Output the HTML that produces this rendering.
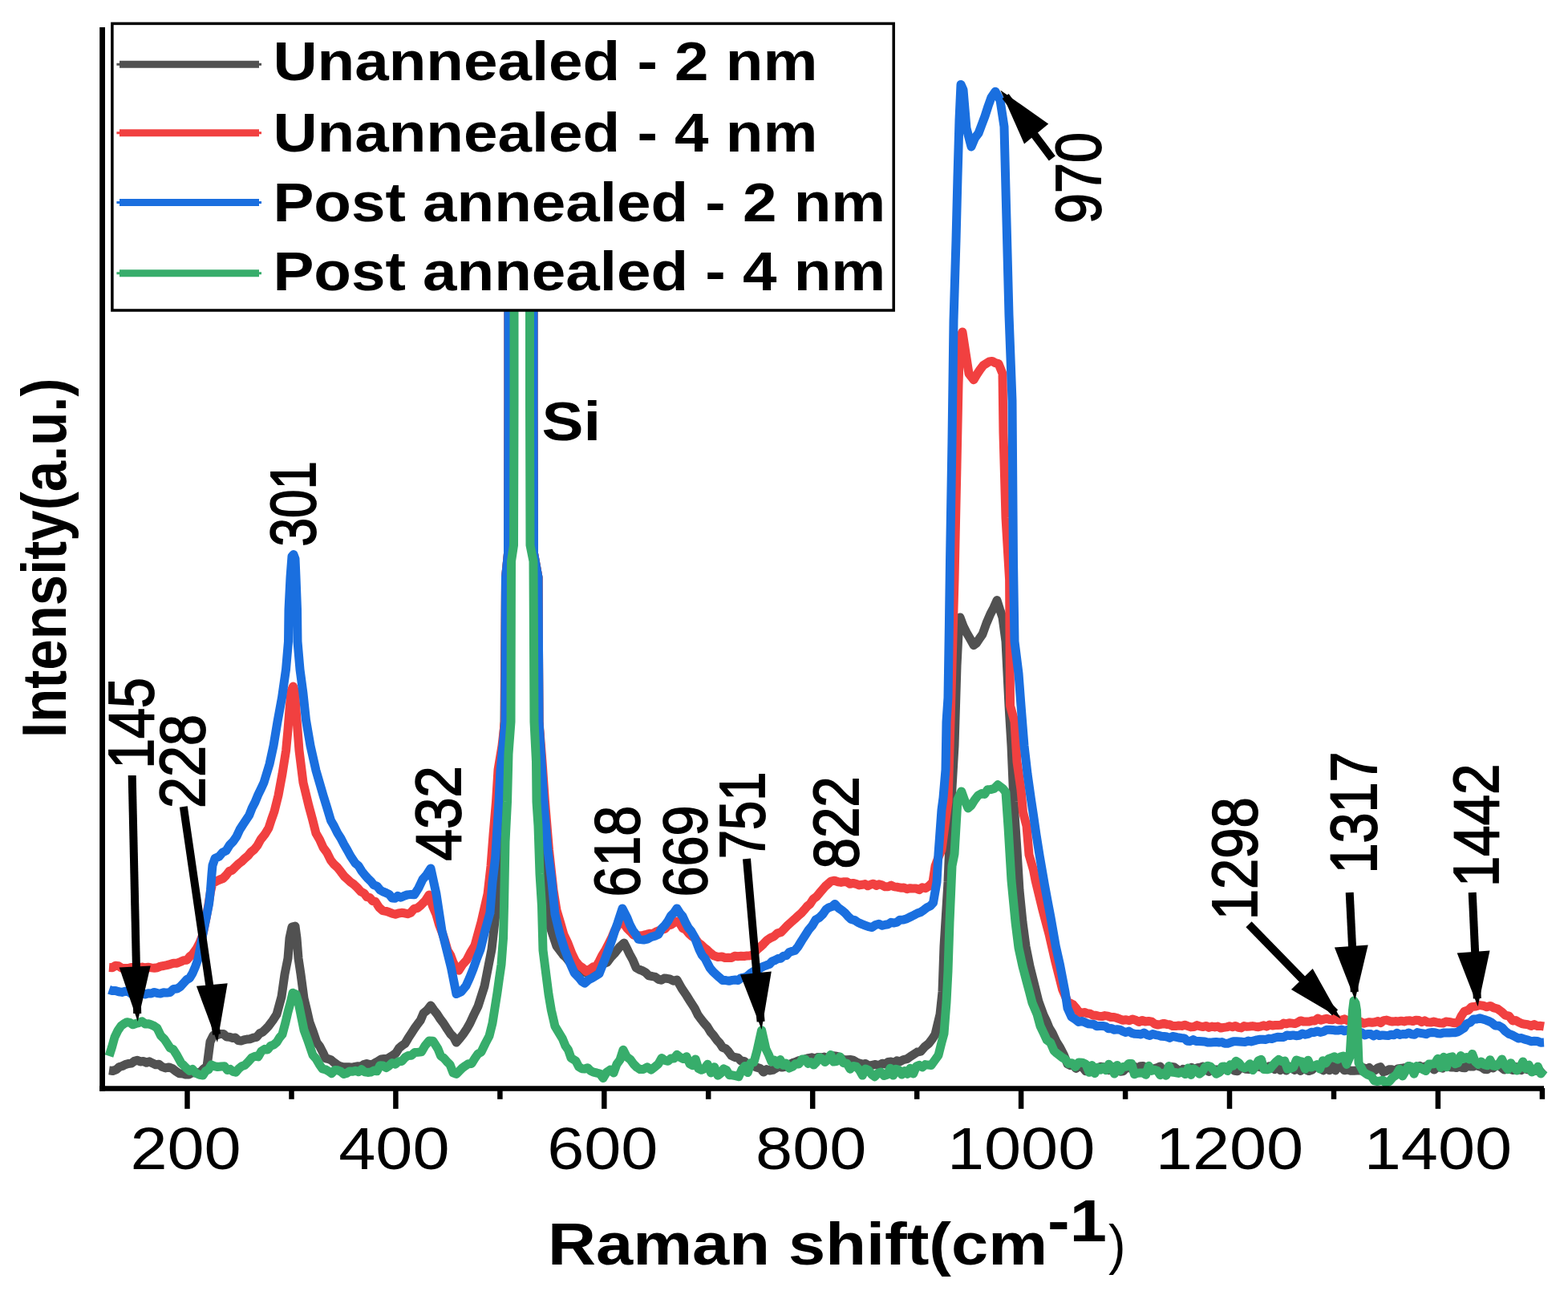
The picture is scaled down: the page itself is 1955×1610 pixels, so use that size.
<!DOCTYPE html><html><head><meta charset="utf-8"><title>Raman spectra</title><style>html,body{margin:0;padding:0;background:#fff;overflow:hidden}svg{display:block}</style></head><body><svg width="1955" height="1610" viewBox="0 0 1955 1610"><rect x="0" y="0" width="1955" height="1610" fill="#fff"/><path d="M136.0 1334.9 L140.5 1335.5 L145.0 1333.8 L148.8 1330.5 L152.5 1329.5 L156.2 1327.6 L160.0 1326.5 L163.8 1326.1 L167.5 1323.3 L171.2 1322.3 L175.0 1324.0 L178.8 1323.5 L182.5 1325.3 L186.2 1323.8 L190.0 1325.8 L194.0 1327.7 L198.0 1327.2 L202.0 1330.3 L206.3 1331.9 L210.7 1330.9 L215.0 1332.6 L219.2 1335.9 L223.5 1338.8 L227.8 1338.9 L232.0 1340.1 L235.6 1340.0 L239.2 1338.0 L242.8 1337.8 L246.4 1337.6 L250.0 1337.0 L254.0 1332.7 L258.0 1330.0 L262.0 1299.2 L266.0 1291.2 L270.5 1290.9 L275.0 1289.4 L278.8 1289.6 L282.5 1293.0 L286.2 1293.2 L290.0 1294.4 L293.5 1294.1 L297.0 1297.5 L300.5 1298.1 L304.0 1296.9 L308.0 1296.0 L312.0 1295.7 L316.0 1294.1 L320.0 1293.3 L323.8 1288.8 L327.5 1287.0 L331.2 1283.5 L335.0 1279.4 L340.0 1272.8 L345.0 1265.0 L351.0 1243.0 L355.0 1215.0 L359.0 1195.0 L361.0 1170.0 L364.0 1156.1 L368.0 1155.0 L370.0 1170.0 L372.0 1195.0 L375.0 1215.0 L379.0 1245.0 L382.5 1259.5 L386.0 1275.0 L390.5 1287.0 L395.0 1300.3 L398.7 1304.9 L402.3 1311.9 L406.0 1319.9 L409.5 1320.7 L413.0 1322.0 L416.5 1325.1 L420.0 1327.6 L423.5 1329.5 L427.0 1330.6 L430.8 1330.7 L434.7 1330.7 L438.5 1331.3 L442.3 1330.4 L446.2 1329.8 L450.0 1330.0 L453.6 1327.6 L457.2 1326.6 L460.8 1327.6 L464.4 1327.4 L468.0 1325.3 L471.7 1323.2 L475.3 1321.0 L479.0 1320.5 L482.7 1320.4 L486.3 1318.3 L490.0 1316.1 L493.8 1313.1 L497.5 1307.2 L501.2 1304.0 L505.0 1301.4 L509.0 1294.6 L513.0 1288.5 L517.0 1282.3 L520.7 1277.1 L524.3 1272.4 L528.0 1263.5 L532.5 1259.9 L537.0 1254.0 L541.0 1259.7 L545.0 1264.7 L549.0 1270.9 L553.0 1276.1 L557.5 1283.2 L562.0 1289.8 L565.5 1293.2 L569.0 1300.1 L573.5 1294.7 L578.0 1289.1 L582.0 1283.0 L586.0 1276.0 L591.0 1265.1 L596.0 1255.0 L600.0 1242.5 L604.0 1230.0 L608.5 1207.0 L613.0 1184.0 L618.0 1140.0 L621.0 1080.0 L623.0 1000.0 L626.0 950.0 L629.0 900.0 L630.5 720.0 L633.5 690.0 L634.0 500.0 L634.0 379.5 L637.9 380.1 L641.8 380.4 L645.6 380.3 L649.5 379.9 L653.4 378.6 L657.2 379.2 L661.1 379.0 L665.0 380.0 L665.0 500.0 L665.5 690.0 L671.0 720.0 L672.0 900.0 L675.0 950.0 L678.0 1000.0 L682.0 1050.0 L684.0 1149.3 L689.0 1165.1 L694.0 1179.9 L698.0 1185.2 L702.0 1190.6 L706.0 1194.3 L709.7 1199.0 L713.3 1201.5 L717.0 1202.7 L721.3 1205.2 L725.7 1207.9 L730.0 1212.8 L733.8 1210.2 L737.5 1208.8 L741.2 1209.4 L745.0 1207.5 L749.0 1204.0 L753.0 1201.6 L757.0 1200.1 L761.5 1194.0 L766.0 1189.3 L772.0 1181.6 L778.0 1175.9 L781.5 1182.5 L785.0 1189.9 L789.0 1197.1 L793.0 1206.7 L797.0 1209.1 L801.0 1210.7 L805.0 1212.8 L809.0 1216.9 L813.0 1217.5 L817.0 1218.4 L821.0 1221.3 L824.5 1222.2 L828.0 1220.1 L831.5 1220.3 L835.0 1220.9 L839.5 1223.2 L844.0 1222.0 L850.0 1232.6 L856.0 1241.5 L861.0 1249.6 L866.0 1257.2 L870.0 1265.4 L874.0 1270.9 L878.0 1276.0 L882.0 1280.5 L886.0 1287.1 L890.0 1291.7 L893.7 1296.9 L897.3 1300.8 L901.0 1306.4 L904.7 1307.7 L908.3 1311.4 L912.0 1316.4 L916.0 1318.5 L920.0 1319.1 L924.0 1323.1 L928.0 1323.4 L932.0 1327.3 L936.0 1328.7 L940.0 1329.7 L944.0 1331.3 L948.0 1332.5 L952.0 1337.1 L955.8 1333.6 L959.7 1335.0 L963.5 1334.4 L967.3 1332.2 L971.2 1330.0 L975.0 1331.1 L978.6 1330.3 L982.2 1328.4 L985.9 1326.7 L989.5 1325.1 L993.1 1323.9 L996.8 1322.4 L1000.4 1322.6 L1004.0 1320.8 L1008.0 1319.6 L1012.0 1318.8 L1016.0 1320.0 L1020.0 1318.4 L1023.8 1318.8 L1027.7 1318.1 L1031.5 1319.6 L1035.3 1319.5 L1039.2 1316.7 L1043.0 1317.1 L1047.2 1318.5 L1051.5 1321.5 L1055.8 1321.8 L1060.0 1321.5 L1063.8 1322.1 L1067.7 1324.5 L1071.5 1326.0 L1075.3 1327.3 L1079.2 1326.5 L1083.0 1329.1 L1087.2 1328.3 L1091.5 1327.5 L1095.8 1328.7 L1100.0 1326.2 L1103.7 1327.0 L1107.3 1324.4 L1111.0 1324.0 L1114.7 1325.6 L1118.3 1322.8 L1122.0 1323.8 L1126.3 1321.6 L1130.7 1320.7 L1135.0 1317.6 L1139.3 1314.9 L1143.7 1312.0 L1148.0 1311.1 L1153.0 1305.3 L1158.0 1301.4 L1162.0 1296.2 L1166.0 1290.0 L1172.0 1265.0 L1175.0 1237.0 L1177.0 1180.0 L1182.0 1100.0 L1186.0 1000.0 L1190.0 930.0 L1193.0 830.0 L1195.0 790.0 L1197.0 769.9 L1201.0 780.7 L1205.0 788.8 L1209.5 796.6 L1214.0 804.7 L1217.7 801.8 L1221.3 796.2 L1225.0 791.0 L1230.0 777.0 L1235.0 765.3 L1239.0 757.8 L1243.0 748.6 L1246.5 759.7 L1250.0 770.0 L1254.0 800.0 L1256.0 840.0 L1258.0 880.0 L1261.0 930.0 L1264.0 1000.0 L1268.0 1060.0 L1271.0 1110.0 L1275.0 1150.0 L1279.0 1180.0 L1284.0 1205.0 L1289.0 1225.0 L1295.0 1249.2 L1301.0 1265.7 L1304.7 1273.3 L1308.3 1282.2 L1312.0 1288.2 L1317.0 1298.8 L1322.0 1306.9 L1326.5 1315.8 L1331.0 1326.9 L1334.5 1328.7 L1338.0 1328.0 L1341.5 1332.4 L1345.0 1330.1 L1349.3 1330.3 L1353.7 1335.7 L1358.0 1329.8 L1361.5 1331.2 L1365.1 1336.4 L1368.6 1332.4 L1372.2 1330.3 L1375.7 1330.7 L1379.2 1331.2 L1382.8 1334.7 L1386.3 1330.2 L1389.8 1335.9 L1393.4 1332.1 L1396.9 1336.3 L1400.5 1335.9 L1404.0 1331.6 L1407.5 1331.3 L1411.1 1332.8 L1414.6 1330.2 L1418.2 1334.1 L1421.7 1329.8 L1425.2 1329.6 L1428.8 1336.4 L1432.3 1331.6 L1435.8 1333.7 L1439.4 1332.6 L1442.9 1331.7 L1446.5 1329.9 L1450.0 1335.9 L1453.6 1336.3 L1457.1 1336.3 L1460.7 1330.3 L1464.3 1331.0 L1467.9 1333.8 L1471.4 1336.4 L1475.0 1333.3 L1478.6 1334.3 L1482.1 1334.1 L1485.7 1331.3 L1489.3 1333.3 L1492.9 1331.7 L1496.4 1331.2 L1500.0 1330.1 L1503.6 1331.5 L1507.1 1336.4 L1510.7 1332.6 L1514.3 1334.1 L1517.9 1334.0 L1521.4 1336.1 L1525.0 1332.2 L1528.6 1331.6 L1532.1 1331.8 L1535.7 1331.7 L1539.3 1335.4 L1542.9 1335.8 L1546.4 1331.6 L1550.0 1331.8 L1553.6 1333.3 L1557.1 1333.5 L1560.7 1333.6 L1564.3 1331.1 L1567.9 1329.5 L1571.4 1331.0 L1575.0 1329.8 L1578.6 1333.1 L1582.1 1329.7 L1585.7 1329.7 L1589.3 1333.6 L1592.9 1331.1 L1596.4 1334.6 L1600.0 1332.5 L1603.6 1335.0 L1607.1 1330.0 L1610.7 1332.4 L1614.3 1334.4 L1617.9 1329.4 L1621.4 1335.4 L1625.0 1330.0 L1628.6 1334.1 L1632.1 1335.6 L1635.7 1334.4 L1639.3 1330.8 L1642.9 1329.3 L1646.4 1332.1 L1650.0 1334.9 L1653.8 1330.6 L1657.5 1334.8 L1661.2 1329.5 L1665.0 1334.9 L1668.8 1328.7 L1672.5 1330.7 L1676.2 1334.8 L1680.0 1334.1 L1684.0 1335.3 L1688.0 1335.2 L1692.0 1334.9 L1696.0 1334.9 L1700.0 1331.7 L1703.5 1333.5 L1707.1 1331.5 L1710.6 1335.3 L1714.1 1334.9 L1717.6 1332.0 L1721.2 1330.6 L1724.7 1336.8 L1728.2 1335.7 L1731.8 1333.8 L1735.3 1333.7 L1738.8 1335.8 L1742.4 1333.0 L1745.9 1332.5 L1749.4 1332.0 L1752.9 1331.4 L1756.5 1329.7 L1760.0 1334.0 L1763.5 1332.3 L1767.0 1333.2 L1770.5 1329.5 L1774.0 1331.4 L1777.5 1329.7 L1781.0 1329.5 L1784.5 1330.3 L1788.0 1334.1 L1791.5 1330.9 L1795.0 1330.8 L1798.5 1332.1 L1802.0 1329.3 L1805.5 1327.6 L1809.0 1331.1 L1812.5 1330.8 L1816.0 1331.6 L1819.5 1330.0 L1823.0 1331.6 L1826.5 1331.8 L1830.0 1328.2 L1833.5 1330.1 L1837.0 1330.1 L1840.6 1328.4 L1844.1 1329.8 L1847.6 1331.0 L1851.1 1333.5 L1854.6 1333.7 L1858.1 1329.3 L1861.7 1332.0 L1865.2 1327.9 L1868.7 1328.2 L1872.2 1331.4 L1875.7 1334.1 L1879.3 1329.2 L1882.8 1333.5 L1886.3 1334.5 L1889.8 1330.6 L1893.3 1333.3 L1896.9 1334.6 L1900.4 1331.3 L1903.9 1333.7 L1907.4 1334.1 L1910.9 1333.2 L1914.4 1335.2 L1918.0 1335.6 L1921.5 1336.1 L1925.0 1333.0" fill="none" stroke="#515151" stroke-width="11" stroke-linejoin="round" stroke-linecap="butt"/><path d="M136.0 1206.4 L140.0 1206.7 L144.0 1204.3 L148.0 1204.8 L152.0 1207.3 L156.0 1207.4 L160.0 1207.5 L163.5 1206.4 L167.0 1207.3 L170.5 1207.3 L174.0 1207.2 L177.5 1206.0 L181.0 1206.8 L184.8 1206.3 L188.6 1206.9 L192.4 1207.3 L196.2 1206.7 L200.0 1205.1 L204.0 1204.5 L208.0 1203.6 L212.0 1202.6 L216.3 1201.2 L220.7 1201.2 L225.0 1199.5 L229.0 1197.6 L233.0 1197.2 L236.5 1193.1 L240.0 1190.2 L245.0 1183.2 L249.0 1175.6 L252.0 1168.0 L254.0 1160.0 L257.0 1145.0 L260.0 1128.0 L262.5 1112.0 L265.0 1101.5 L270.0 1098.9 L274.0 1097.0 L278.0 1095.5 L282.0 1091.5 L285.8 1086.5 L289.5 1085.2 L293.2 1081.4 L297.0 1077.7 L301.0 1074.7 L305.0 1070.8 L309.0 1067.4 L313.0 1062.6 L317.0 1059.4 L321.0 1054.4 L325.0 1047.0 L330.0 1040.8 L335.0 1032.6 L338.5 1021.9 L342.0 1012.0 L347.0 992.0 L352.0 965.0 L356.6 936.0 L359.0 910.0 L361.0 885.0 L363.0 862.1 L365.5 856.0 L367.5 862.0 L369.0 885.0 L371.0 910.0 L373.0 936.0 L376.0 960.0 L378.0 976.0 L381.5 990.5 L385.0 1005.0 L389.5 1021.5 L394.0 1039.3 L398.5 1047.0 L403.0 1057.0 L407.8 1063.6 L412.5 1073.1 L416.7 1078.2 L420.8 1081.9 L425.0 1087.2 L429.0 1092.6 L433.0 1096.3 L437.0 1100.0 L441.2 1102.9 L445.5 1107.0 L449.8 1111.8 L454.0 1114.0 L457.5 1118.7 L461.0 1119.3 L464.5 1123.7 L468.0 1124.4 L472.5 1131.4 L477.0 1135.6 L481.0 1136.3 L485.0 1137.6 L489.0 1139.2 L493.0 1140.3 L496.8 1139.0 L500.6 1138.3 L504.4 1138.8 L508.2 1139.7 L512.0 1138.4 L516.3 1133.4 L520.7 1132.3 L525.0 1128.7 L530.0 1123.7 L535.0 1116.1 L539.5 1130.2 L544.0 1140.7 L547.5 1153.0 L551.0 1162.3 L554.5 1172.7 L558.0 1185.1 L561.5 1190.8 L565.0 1200.1 L568.5 1206.6 L572.0 1210.2 L577.0 1202.6 L582.0 1197.1 L587.0 1187.3 L592.0 1179.0 L596.0 1164.5 L600.0 1150.0 L604.0 1132.5 L608.0 1115.0 L612.0 1080.0 L615.0 1041.0 L618.5 1000.0 L621.0 960.0 L626.0 930.0 L629.5 900.0 L630.5 720.0 L633.5 690.0 L634.0 500.0 L634.0 380.7 L637.9 378.6 L641.8 379.6 L645.6 379.0 L649.5 380.5 L653.4 378.7 L657.2 381.4 L661.1 378.6 L665.0 380.0 L665.0 500.0 L665.5 690.0 L671.0 720.0 L672.0 900.0 L676.0 950.0 L679.5 1000.0 L684.5 1060.0 L690.0 1110.0 L694.0 1135.0 L698.5 1150.0 L703.0 1165.7 L708.0 1176.1 L713.0 1189.3 L717.5 1198.4 L722.0 1204.0 L726.5 1207.1 L731.0 1211.6 L735.5 1208.7 L740.0 1205.6 L743.5 1205.0 L747.0 1199.0 L751.0 1191.1 L755.0 1184.5 L759.0 1176.8 L763.0 1168.7 L766.5 1160.3 L770.0 1154.5 L775.0 1147.6 L778.5 1152.8 L782.0 1157.8 L786.0 1161.7 L790.0 1166.2 L794.0 1166.3 L798.0 1167.1 L802.0 1166.3 L806.0 1165.3 L810.0 1164.2 L813.7 1164.5 L817.3 1162.4 L821.0 1160.8 L825.0 1159.5 L829.0 1158.5 L833.0 1153.9 L836.7 1153.3 L840.3 1150.7 L844.0 1149.0 L847.7 1151.6 L851.3 1157.7 L855.0 1159.3 L859.0 1164.3 L863.0 1167.8 L867.0 1170.6 L870.7 1175.8 L874.3 1178.3 L878.0 1181.7 L882.0 1184.9 L886.0 1188.7 L890.0 1191.8 L895.0 1193.4 L900.0 1193.0 L904.0 1194.5 L908.0 1194.3 L912.0 1194.5 L916.0 1192.2 L920.0 1192.8 L924.0 1192.3 L927.8 1192.5 L931.5 1191.9 L935.2 1191.7 L939.0 1190.6 L943.3 1184.9 L947.7 1181.1 L952.0 1177.1 L956.3 1172.5 L960.7 1169.6 L965.0 1167.7 L969.3 1163.8 L973.7 1162.7 L978.0 1158.2 L982.2 1153.8 L986.5 1150.0 L990.8 1146.2 L995.0 1142.2 L998.8 1139.1 L1002.5 1134.9 L1006.2 1130.4 L1010.0 1127.4 L1014.0 1121.1 L1018.0 1118.2 L1022.0 1113.4 L1025.5 1109.4 L1029.0 1105.3 L1032.5 1102.3 L1036.0 1099.2 L1040.5 1098.2 L1045.0 1099.8 L1048.7 1100.4 L1052.3 1099.7 L1056.0 1099.8 L1059.8 1102.3 L1063.6 1101.4 L1067.4 1102.3 L1071.2 1103.9 L1075.0 1103.3 L1078.5 1102.5 L1082.0 1104.8 L1085.5 1103.1 L1089.0 1102.2 L1092.5 1104.4 L1096.0 1102.8 L1099.8 1103.8 L1103.6 1105.8 L1107.4 1105.7 L1111.2 1104.1 L1115.0 1105.9 L1119.0 1106.3 L1123.0 1107.2 L1127.0 1106.9 L1131.0 1108.7 L1135.0 1107.7 L1138.8 1108.1 L1142.5 1108.1 L1146.2 1109.6 L1150.0 1106.7 L1154.0 1107.8 L1158.0 1105.1 L1163.0 1100.0 L1166.0 1080.2 L1171.0 1066.7 L1174.0 1060.0 L1178.0 1030.0 L1182.0 1000.0 L1185.0 900.0 L1187.0 830.0 L1190.0 723.0 L1193.0 580.0 L1195.0 480.0 L1197.0 419.9 L1200.0 414.0 L1204.0 440.0 L1208.0 465.8 L1214.0 473.7 L1218.0 466.9 L1222.0 460.9 L1226.0 455.7 L1230.0 453.1 L1233.5 450.9 L1237.0 450.4 L1241.0 452.6 L1245.0 453.6 L1250.0 466.0 L1251.0 540.0 L1254.0 646.0 L1258.6 723.0 L1259.5 880.0 L1265.0 900.0 L1268.0 950.0 L1273.0 985.0 L1275.5 1013.0 L1280.0 1030.0 L1283.0 1066.0 L1288.5 1085.0 L1291.0 1098.0 L1295.5 1116.5 L1300.0 1135.0 L1304.0 1150.0 L1308.0 1165.0 L1312.0 1182.5 L1316.0 1200.0 L1320.2 1216.5 L1324.5 1233.5 L1331.0 1248.8 L1334.5 1251.2 L1338.0 1253.0 L1341.5 1257.1 L1345.0 1261.9 L1348.6 1263.5 L1352.1 1262.4 L1355.7 1263.8 L1359.3 1264.2 L1362.9 1266.2 L1366.4 1266.3 L1370.0 1267.3 L1373.8 1267.6 L1377.5 1266.6 L1381.2 1267.1 L1385.0 1268.5 L1388.8 1268.4 L1392.5 1269.5 L1396.2 1270.9 L1400.0 1272.3 L1404.0 1271.7 L1408.0 1272.8 L1412.0 1271.0 L1416.0 1272.2 L1420.0 1274.5 L1424.0 1272.5 L1428.0 1274.0 L1432.0 1273.5 L1436.0 1274.2 L1440.0 1277.2 L1443.7 1278.0 L1447.3 1277.4 L1451.0 1276.4 L1454.7 1277.4 L1458.3 1277.7 L1462.0 1279.5 L1465.8 1279.6 L1469.6 1279.0 L1473.4 1279.4 L1477.2 1278.2 L1481.0 1279.6 L1484.8 1280.9 L1488.6 1280.5 L1492.4 1278.6 L1496.2 1279.9 L1500.0 1280.6 L1503.7 1279.4 L1507.3 1281.4 L1511.0 1280.1 L1514.7 1280.9 L1518.3 1280.1 L1522.0 1282.0 L1525.7 1281.4 L1529.3 1280.9 L1533.0 1279.7 L1536.7 1280.7 L1540.3 1279.5 L1544.0 1281.3 L1547.5 1281.9 L1551.1 1279.6 L1554.6 1280.3 L1558.2 1280.0 L1561.7 1279.6 L1565.2 1280.2 L1568.8 1280.7 L1572.3 1279.8 L1575.8 1278.8 L1579.4 1280.1 L1582.9 1278.0 L1586.5 1279.0 L1590.0 1278.5 L1593.5 1278.4 L1597.0 1278.3 L1600.5 1276.0 L1604.0 1276.8 L1607.5 1275.7 L1611.0 1276.1 L1614.5 1276.6 L1618.0 1275.2 L1621.5 1272.9 L1625.0 1273.9 L1628.6 1274.1 L1632.2 1274.1 L1635.9 1273.0 L1639.5 1272.9 L1643.1 1270.1 L1646.8 1272.3 L1650.4 1271.2 L1654.0 1270.3 L1657.7 1271.5 L1661.4 1271.7 L1665.1 1269.7 L1668.9 1272.1 L1672.6 1272.2 L1676.3 1270.8 L1680.0 1272.7 L1684.0 1273.1 L1688.0 1272.7 L1692.0 1275.3 L1696.0 1274.1 L1700.0 1276.3 L1703.6 1275.5 L1707.2 1274.7 L1710.8 1275.3 L1714.4 1274.7 L1718.0 1273.6 L1721.6 1275.6 L1725.2 1272.6 L1728.8 1272.1 L1732.4 1273.3 L1736.0 1274.0 L1739.7 1273.6 L1743.3 1273.9 L1747.0 1273.2 L1750.7 1273.9 L1754.3 1272.9 L1758.0 1272.8 L1761.7 1273.6 L1765.3 1272.2 L1769.0 1272.5 L1772.7 1274.6 L1776.3 1272.9 L1780.0 1274.8 L1783.8 1275.1 L1787.6 1274.1 L1791.4 1275.1 L1795.2 1275.7 L1799.0 1276.1 L1802.8 1274.1 L1806.6 1274.4 L1810.4 1275.2 L1814.2 1275.7 L1818.0 1275.4 L1822.0 1267.0 L1826.0 1261.2 L1830.5 1259.9 L1835.0 1255.6 L1840.0 1255.1 L1845.0 1253.6 L1849.3 1254.2 L1853.7 1255.8 L1858.0 1254.4 L1862.5 1256.9 L1867.0 1258.0 L1872.0 1261.6 L1877.0 1266.2 L1881.5 1267.2 L1886.0 1273.0 L1889.8 1272.6 L1893.6 1274.8 L1897.4 1276.5 L1901.2 1277.3 L1905.0 1277.7 L1909.0 1279.4 L1913.0 1277.6 L1917.0 1279.6 L1921.0 1279.3 L1925.0 1280.0" fill="none" stroke="#F14040" stroke-width="11" stroke-linejoin="round" stroke-linecap="butt"/><path d="M136.0 1234.2 L140.0 1235.6 L144.0 1235.6 L148.0 1236.8 L152.0 1237.4 L156.0 1236.2 L160.0 1236.5 L163.5 1239.2 L167.0 1237.6 L170.5 1237.7 L174.0 1240.2 L177.5 1238.7 L181.0 1240.0 L184.8 1238.7 L188.6 1239.0 L192.4 1237.4 L196.2 1238.6 L200.0 1239.1 L204.0 1237.7 L208.0 1238.1 L212.0 1237.5 L216.3 1233.4 L220.7 1233.1 L225.0 1230.3 L229.0 1225.9 L233.0 1221.6 L236.5 1219.6 L240.0 1213.9 L243.5 1205.7 L247.0 1196.0 L250.0 1180.0 L253.7 1161.0 L257.0 1145.0 L260.6 1127.0 L262.5 1110.0 L264.0 1090.0 L265.0 1079.1 L268.0 1070.6 L273.0 1068.3 L277.5 1063.2 L282.0 1060.9 L286.3 1053.8 L290.7 1049.3 L295.0 1043.1 L299.0 1034.5 L303.0 1028.2 L307.0 1022.2 L310.7 1016.7 L314.3 1007.5 L318.0 1000.4 L321.7 991.4 L325.3 984.0 L329.0 976.0 L332.5 964.5 L336.0 953.0 L341.0 930.0 L346.0 900.0 L351.5 870.0 L356.5 835.0 L359.5 800.0 L360.0 760.0 L362.0 720.0 L364.0 693.7 L366.0 691.6 L368.0 697.0 L369.0 720.0 L370.5 760.0 L371.0 800.0 L374.0 835.0 L378.0 865.0 L381.5 898.0 L387.0 930.0 L390.5 945.5 L394.0 961.0 L398.5 976.5 L403.0 992.0 L407.8 1007.5 L412.5 1023.3 L416.7 1030.6 L420.8 1038.9 L425.0 1045.5 L429.0 1053.3 L433.0 1060.1 L437.0 1067.5 L443.0 1076.5 L447.0 1079.7 L451.0 1086.4 L455.0 1091.4 L458.7 1095.5 L462.3 1098.9 L466.0 1103.6 L470.0 1105.1 L474.0 1110.0 L478.0 1112.2 L481.7 1113.7 L485.3 1115.4 L489.0 1120.1 L492.5 1120.2 L496.0 1117.3 L499.5 1119.2 L503.0 1117.7 L507.5 1116.0 L512.1 1115.4 L516.6 1115.8 L521.8 1107.6 L527.0 1096.6 L532.0 1090.8 L537.0 1083.0 L540.5 1099.0 L544.0 1115.0 L547.5 1138.0 L551.0 1161.0 L557.0 1185.0 L562.5 1207.0 L569.0 1239.6 L575.0 1236.7 L581.0 1229.5 L585.5 1219.6 L590.0 1208.4 L594.5 1195.5 L599.0 1184.0 L605.0 1160.0 L611.0 1138.0 L614.0 1100.0 L617.7 1069.0 L622.0 1000.0 L624.0 960.0 L627.0 930.0 L630.0 900.0 L630.5 720.0 L633.5 690.0 L634.0 500.0 L634.0 381.5 L637.9 379.4 L641.8 378.7 L645.6 380.3 L649.5 378.6 L653.4 379.1 L657.2 379.7 L661.1 380.3 L665.0 380.0 L665.0 500.0 L665.5 690.0 L671.0 720.0 L672.0 900.0 L675.0 950.0 L678.0 1000.0 L683.0 1060.0 L688.0 1100.0 L692.0 1140.0 L698.0 1165.0 L704.0 1184.0 L710.0 1199.6 L716.0 1213.1 L722.0 1219.4 L725.5 1223.9 L729.0 1226.2 L733.5 1222.1 L738.0 1219.9 L742.5 1217.1 L747.0 1214.4 L751.0 1204.3 L755.0 1194.2 L759.0 1183.4 L763.0 1172.0 L766.5 1161.0 L770.0 1151.3 L776.0 1133.0 L782.0 1144.8 L785.5 1153.7 L789.0 1160.2 L792.5 1164.9 L796.0 1171.4 L802.5 1172.1 L807.2 1171.1 L812.0 1168.5 L816.5 1167.2 L821.0 1165.2 L825.0 1157.9 L829.0 1154.0 L833.0 1148.4 L836.7 1141.7 L840.3 1138.4 L844.0 1132.9 L847.5 1138.5 L851.0 1142.6 L854.5 1150.1 L858.0 1156.7 L862.0 1161.6 L866.0 1168.7 L872.0 1184.5 L875.5 1191.4 L879.0 1195.3 L885.0 1206.9 L889.0 1211.8 L893.0 1215.5 L897.0 1219.1 L901.0 1222.4 L905.0 1222.6 L909.0 1223.3 L913.0 1222.4 L916.7 1222.0 L920.3 1222.5 L924.0 1219.6 L928.0 1219.0 L932.0 1217.2 L936.0 1213.7 L940.0 1211.2 L944.0 1210.9 L948.0 1207.2 L952.0 1205.1 L955.6 1203.8 L959.2 1202.6 L962.8 1198.8 L966.4 1197.5 L970.0 1195.5 L973.5 1195.2 L977.0 1192.1 L980.5 1191.6 L984.0 1187.7 L987.5 1186.3 L991.0 1185.5 L995.3 1180.2 L999.7 1172.9 L1004.0 1166.2 L1008.3 1159.5 L1012.7 1154.4 L1017.0 1147.1 L1021.3 1144.6 L1025.7 1140.3 L1030.0 1134.1 L1033.7 1131.7 L1037.3 1130.6 L1041.0 1127.4 L1045.5 1132.4 L1050.0 1135.5 L1053.5 1138.4 L1057.0 1142.4 L1061.3 1146.5 L1065.7 1147.6 L1070.0 1150.5 L1074.3 1152.4 L1078.7 1154.1 L1083.0 1155.7 L1087.2 1156.5 L1091.5 1153.5 L1095.8 1152.3 L1100.0 1154.3 L1103.7 1153.3 L1107.3 1152.8 L1111.0 1150.3 L1114.7 1151.0 L1118.3 1150.1 L1122.0 1147.2 L1126.3 1147.1 L1130.7 1145.7 L1135.0 1143.5 L1139.3 1141.4 L1143.7 1139.0 L1148.0 1137.5 L1152.0 1134.7 L1156.0 1131.7 L1159.8 1129.8 L1163.5 1126.0 L1168.0 1100.0 L1170.0 1065.0 L1174.0 1010.0 L1176.0 995.0 L1179.0 960.0 L1180.0 900.0 L1182.0 870.0 L1183.4 780.0 L1184.5 700.0 L1187.0 550.0 L1189.0 400.0 L1192.0 300.0 L1194.0 220.0 L1196.0 150.0 L1198.0 105.4 L1201.0 112.0 L1205.0 160.0 L1211.0 182.9 L1215.5 172.1 L1220.0 166.2 L1224.0 155.6 L1228.0 145.0 L1232.0 132.5 L1236.0 121.3 L1241.0 114.2 L1247.0 125.0 L1252.0 158.0 L1254.0 237.0 L1258.0 393.0 L1262.0 500.0 L1263.5 700.0 L1265.0 800.0 L1270.0 840.0 L1273.0 880.0 L1277.0 930.0 L1281.0 965.0 L1285.5 997.0 L1289.0 1020.0 L1292.0 1041.0 L1296.3 1068.0 L1302.5 1104.0 L1306.2 1124.0 L1310.0 1144.0 L1316.3 1180.0 L1321.5 1203.0 L1328.0 1237.0 L1331.0 1257.2 L1336.0 1268.2 L1341.0 1271.5 L1344.8 1274.5 L1348.6 1273.6 L1352.4 1274.8 L1356.2 1276.7 L1360.0 1277.1 L1363.8 1277.5 L1367.5 1279.8 L1371.2 1279.6 L1375.0 1279.5 L1378.6 1280.1 L1382.1 1282.8 L1385.7 1282.5 L1389.3 1284.3 L1392.9 1283.8 L1396.4 1284.2 L1400.0 1286.1 L1403.8 1287.5 L1407.5 1286.0 L1411.2 1288.4 L1415.0 1289.3 L1418.8 1289.4 L1422.5 1290.0 L1426.2 1288.0 L1430.0 1290.4 L1433.6 1291.5 L1437.1 1289.5 L1440.7 1290.6 L1444.2 1291.1 L1447.8 1292.3 L1451.3 1292.4 L1454.9 1293.0 L1458.4 1294.4 L1462.0 1292.5 L1465.7 1293.2 L1469.3 1294.0 L1473.0 1294.5 L1476.7 1294.9 L1480.3 1298.2 L1484.0 1298.4 L1487.7 1296.6 L1491.3 1298.5 L1495.0 1298.4 L1498.6 1298.7 L1502.1 1299.0 L1505.7 1300.1 L1509.2 1300.1 L1512.8 1299.7 L1516.3 1299.4 L1519.9 1300.0 L1523.4 1299.6 L1527.0 1301.2 L1530.7 1301.3 L1534.3 1300.0 L1538.0 1298.7 L1541.7 1298.7 L1545.3 1299.0 L1549.0 1299.3 L1552.7 1299.5 L1556.3 1298.0 L1560.0 1298.9 L1563.7 1297.9 L1567.3 1296.9 L1571.0 1296.3 L1574.7 1296.2 L1578.3 1296.4 L1582.0 1295.1 L1585.7 1295.5 L1589.3 1294.3 L1593.0 1293.2 L1596.9 1293.5 L1600.7 1293.4 L1604.6 1291.0 L1608.4 1291.5 L1612.3 1290.9 L1616.1 1291.7 L1620.0 1291.3 L1623.8 1289.1 L1627.5 1290.2 L1631.2 1289.4 L1635.0 1287.3 L1638.8 1287.4 L1642.5 1285.9 L1646.2 1287.4 L1650.0 1286.5 L1654.0 1284.2 L1657.7 1284.3 L1661.4 1284.4 L1665.1 1285.0 L1668.9 1284.9 L1672.6 1284.0 L1676.3 1285.8 L1680.0 1284.5 L1683.6 1285.6 L1687.2 1288.1 L1690.9 1286.5 L1694.5 1287.3 L1698.1 1287.9 L1701.8 1290.9 L1705.4 1289.4 L1709.0 1289.6 L1712.6 1291.9 L1716.3 1289.6 L1719.9 1291.6 L1723.6 1290.9 L1727.2 1291.3 L1730.9 1291.5 L1734.5 1290.2 L1738.1 1290.8 L1741.8 1288.3 L1745.4 1290.4 L1749.1 1289.5 L1752.7 1289.9 L1756.4 1288.0 L1760.0 1289.7 L1763.6 1290.2 L1767.2 1287.6 L1770.9 1288.3 L1774.5 1288.9 L1778.1 1289.7 L1781.8 1287.9 L1785.4 1287.6 L1789.0 1287.7 L1792.6 1288.8 L1796.2 1289.1 L1799.9 1288.0 L1803.5 1287.9 L1807.1 1287.9 L1810.8 1287.7 L1814.4 1287.8 L1818.0 1286.7 L1821.7 1284.3 L1825.3 1282.1 L1829.0 1276.7 L1833.0 1275.2 L1837.0 1271.0 L1841.0 1271.1 L1845.0 1269.8 L1848.8 1271.0 L1852.5 1272.1 L1856.2 1273.5 L1860.0 1275.4 L1864.3 1278.9 L1868.7 1279.3 L1873.0 1281.8 L1877.0 1286.2 L1881.0 1289.2 L1885.0 1290.6 L1889.0 1292.8 L1893.0 1294.9 L1897.0 1294.6 L1901.0 1296.1 L1905.0 1297.1 L1909.0 1298.7 L1913.0 1298.2 L1917.0 1298.4 L1921.0 1300.2 L1925.0 1300.0" fill="none" stroke="#1A6FDF" stroke-width="11" stroke-linejoin="round" stroke-linecap="butt"/><path d="M136.0 1317.0 L139.5 1306.0 L143.0 1293.4 L147.0 1285.1 L151.0 1279.4 L154.7 1276.6 L158.3 1274.7 L162.0 1275.4 L165.7 1277.8 L169.3 1276.5 L173.0 1275.6 L177.0 1273.7 L181.0 1276.9 L185.0 1276.7 L188.7 1278.0 L192.3 1279.6 L196.0 1282.3 L200.5 1291.6 L205.0 1296.0 L208.5 1301.3 L212.0 1306.8 L216.0 1308.7 L220.0 1314.9 L226.0 1325.8 L229.5 1329.1 L233.0 1332.6 L236.5 1335.5 L240.0 1333.5 L244.3 1338.3 L248.7 1340.4 L253.0 1341.0 L256.5 1335.6 L260.0 1333.8 L263.5 1328.0 L267.0 1329.6 L271.3 1330.5 L275.7 1330.0 L280.0 1329.8 L283.5 1334.5 L287.0 1333.4 L290.5 1336.3 L294.0 1337.1 L297.7 1332.7 L301.3 1329.8 L305.0 1328.6 L309.5 1324.1 L314.0 1319.0 L318.0 1317.3 L322.0 1317.9 L326.0 1310.8 L330.0 1308.3 L333.8 1309.0 L337.5 1304.2 L341.2 1303.0 L345.0 1299.8 L348.5 1294.1 L352.0 1290.0 L356.0 1275.0 L359.0 1262.0 L362.0 1251.0 L365.0 1238.2 L369.0 1240.0 L372.0 1250.0 L375.0 1265.0 L379.0 1284.5 L384.0 1298.2 L390.0 1315.8 L394.0 1320.2 L398.0 1327.1 L402.0 1333.0 L406.0 1333.9 L409.8 1336.0 L413.6 1338.6 L417.4 1334.4 L421.2 1334.8 L425.0 1336.4 L428.7 1339.4 L432.3 1338.4 L436.0 1335.9 L439.7 1336.3 L443.3 1335.2 L447.0 1336.8 L450.8 1333.6 L454.7 1336.9 L458.5 1337.4 L462.3 1337.1 L466.2 1335.1 L470.0 1335.8 L473.8 1328.7 L477.6 1328.9 L481.4 1331.6 L485.2 1329.1 L489.0 1325.5 L493.0 1327.2 L497.0 1323.7 L501.0 1323.4 L505.0 1318.8 L509.0 1316.4 L513.0 1316.2 L517.0 1312.6 L521.0 1312.3 L525.5 1311.8 L530.0 1304.0 L535.0 1298.1 L540.0 1298.3 L546.0 1308.0 L549.5 1316.7 L553.0 1319.2 L557.0 1323.7 L561.0 1327.6 L565.0 1337.9 L569.0 1339.5 L572.7 1335.6 L576.3 1332.0 L580.0 1329.3 L584.0 1326.7 L588.0 1326.4 L592.0 1319.9 L596.0 1314.2 L600.0 1311.9 L605.0 1301.5 L610.0 1292.0 L614.0 1276.0 L617.0 1257.0 L620.0 1238.0 L622.5 1220.0 L625.0 1203.0 L627.5 1170.0 L628.5 1130.0 L630.0 1050.0 L632.5 1000.0 L634.0 940.0 L637.0 900.0 L637.5 700.0 L640.5 680.0 L641.0 500.0 L641.0 383.0 L644.9 377.7 L648.8 380.2 L652.7 381.6 L656.6 379.5 L660.5 380.0 L660.5 500.0 L661.0 680.0 L665.0 700.0 L666.0 900.0 L668.5 950.0 L669.0 1000.0 L671.0 1030.0 L673.0 1090.0 L675.5 1130.0 L677.0 1185.0 L680.8 1215.0 L684.0 1240.0 L687.4 1260.0 L692.0 1279.9 L698.0 1289.9 L701.5 1295.7 L705.0 1304.4 L708.5 1309.3 L712.0 1319.4 L718.0 1323.2 L721.7 1330.4 L725.3 1332.7 L729.0 1333.0 L732.7 1331.7 L736.3 1335.3 L740.0 1337.2 L744.0 1338.0 L748.0 1339.1 L752.0 1344.6 L756.3 1337.2 L760.7 1334.2 L765.0 1338.0 L769.0 1327.1 L773.0 1321.8 L777.0 1309.3 L781.3 1317.8 L785.7 1321.1 L790.0 1327.0 L794.0 1331.0 L798.0 1333.6 L802.0 1333.5 L807.0 1330.8 L812.0 1334.1 L816.5 1330.4 L821.0 1326.7 L825.0 1319.5 L829.0 1322.4 L833.0 1323.3 L836.7 1319.9 L840.3 1320.1 L844.0 1315.3 L848.0 1318.5 L852.0 1320.5 L856.0 1317.7 L860.0 1326.7 L863.6 1328.8 L867.2 1320.9 L870.8 1332.6 L874.4 1334.3 L878.0 1332.9 L882.2 1327.2 L886.5 1337.9 L890.8 1330.7 L895.0 1341.2 L898.6 1338.6 L902.2 1332.8 L905.8 1334.7 L909.4 1340.7 L913.0 1340.8 L917.0 1341.7 L921.0 1342.7 L925.0 1333.9 L928.7 1329.5 L932.3 1337.6 L936.0 1325.6 L940.0 1324.6 L944.0 1310.0 L949.6 1284.8 L955.0 1308.4 L958.5 1315.6 L962.0 1324.2 L965.6 1322.2 L969.2 1327.4 L972.8 1321.5 L976.4 1328.3 L980.0 1326.1 L984.0 1332.0 L988.0 1330.3 L992.0 1326.7 L996.0 1327.0 L1000.0 1321.1 L1004.0 1320.9 L1007.5 1326.4 L1011.0 1324.5 L1014.5 1328.0 L1018.0 1324.5 L1021.5 1318.7 L1025.0 1320.5 L1028.6 1324.5 L1032.2 1321.5 L1035.8 1315.4 L1039.4 1324.1 L1043.0 1323.6 L1047.2 1317.9 L1051.5 1325.5 L1055.8 1326.2 L1060.0 1333.2 L1063.8 1329.4 L1067.7 1330.1 L1071.5 1334.4 L1075.3 1341.1 L1079.2 1333.0 L1083.0 1334.8 L1086.9 1340.0 L1090.7 1342.7 L1094.6 1338.3 L1098.4 1337.1 L1102.3 1341.5 L1106.1 1340.3 L1110.0 1332.2 L1113.6 1341.1 L1117.1 1333.4 L1120.7 1334.4 L1124.3 1340.1 L1127.9 1335.4 L1131.4 1339.4 L1135.0 1332.3 L1138.8 1338.9 L1142.5 1329.9 L1146.2 1328.4 L1150.0 1330.9 L1153.7 1327.6 L1157.3 1328.1 L1161.0 1328.4 L1165.5 1322.3 L1170.0 1316.0 L1174.0 1300.0 L1177.0 1289.0 L1180.0 1250.0 L1182.0 1211.0 L1184.0 1150.0 L1187.0 1080.0 L1190.0 1065.0 L1194.0 997.0 L1198.7 986.9 L1202.8 998.3 L1207.0 1007.9 L1211.0 1004.3 L1215.0 997.9 L1219.5 992.0 L1224.0 989.5 L1227.7 990.4 L1231.3 984.8 L1235.0 984.6 L1239.5 983.4 L1244.0 978.8 L1250.0 983.1 L1254.0 988.0 L1257.0 1031.0 L1261.0 1098.0 L1266.0 1150.0 L1270.0 1182.0 L1275.0 1205.0 L1280.0 1224.0 L1283.5 1237.0 L1287.0 1250.7 L1293.0 1264.9 L1297.0 1279.5 L1301.0 1287.8 L1305.3 1297.1 L1309.7 1300.2 L1314.0 1310.2 L1317.5 1313.5 L1321.0 1316.2 L1324.5 1318.9 L1328.0 1320.8 L1332.2 1326.4 L1336.5 1325.7 L1340.8 1330.5 L1345.0 1324.9 L1349.3 1325.2 L1353.7 1327.0 L1358.0 1337.3 L1361.5 1328.5 L1365.0 1338.6 L1368.5 1331.2 L1372.0 1334.1 L1375.5 1330.9 L1379.0 1334.7 L1382.5 1327.3 L1386.0 1331.6 L1389.5 1339.1 L1393.0 1328.5 L1396.5 1335.2 L1400.0 1330.6 L1403.6 1330.3 L1407.2 1326.6 L1410.8 1326.6 L1414.4 1339.8 L1417.9 1338.2 L1421.5 1337.9 L1425.1 1338.1 L1428.7 1340.3 L1432.3 1329.3 L1435.9 1335.4 L1439.5 1334.2 L1443.1 1335.4 L1446.6 1340.7 L1450.2 1338.3 L1453.8 1341.3 L1457.4 1329.5 L1461.0 1337.1 L1465.2 1337.5 L1469.5 1338.4 L1473.8 1336.7 L1478.0 1339.6 L1481.5 1332.0 L1485.0 1340.5 L1488.5 1332.9 L1492.0 1335.4 L1495.5 1339.3 L1499.0 1336.4 L1502.5 1330.6 L1506.0 1329.2 L1509.5 1330.3 L1513.0 1334.3 L1516.5 1339.2 L1520.0 1337.6 L1523.5 1330.3 L1527.0 1330.0 L1530.5 1335.5 L1534.0 1327.7 L1537.5 1329.2 L1541.0 1323.3 L1544.5 1325.4 L1548.0 1330.1 L1551.5 1331.9 L1555.0 1330.5 L1558.5 1326.7 L1562.0 1334.6 L1565.5 1329.7 L1569.0 1322.8 L1572.5 1321.3 L1576.0 1333.6 L1579.7 1333.8 L1583.3 1332.9 L1587.0 1328.5 L1590.7 1324.4 L1594.3 1321.3 L1598.0 1323.6 L1601.7 1323.1 L1605.3 1333.0 L1609.0 1332.5 L1612.7 1330.9 L1616.3 1322.1 L1620.0 1323.3 L1623.7 1324.2 L1627.3 1333.3 L1631.0 1322.3 L1634.7 1331.1 L1638.3 1329.5 L1642.0 1327.7 L1645.7 1333.0 L1649.3 1322.8 L1653.0 1326.0 L1656.7 1320.4 L1660.3 1319.1 L1664.0 1317.8 L1667.7 1321.3 L1671.3 1318.1 L1675.0 1316.9 L1679.0 1327.4 L1683.0 1318.0 L1686.5 1260.0 L1688.0 1248.0 L1690.0 1251.0 L1691.5 1260.0 L1694.0 1325.5 L1700.0 1336.8 L1705.0 1340.2 L1710.0 1342.2 L1713.6 1347.9 L1717.2 1348.5 L1720.8 1347.9 L1724.4 1347.2 L1728.0 1350.7 L1732.2 1348.6 L1736.5 1343.7 L1740.8 1340.5 L1745.0 1333.2 L1748.6 1342.0 L1752.2 1336.2 L1755.8 1329.5 L1759.4 1330.2 L1763.0 1339.2 L1766.7 1329.7 L1770.4 1330.7 L1774.1 1333.8 L1777.8 1335.5 L1781.5 1327.1 L1785.2 1327.0 L1788.9 1326.6 L1792.6 1320.2 L1796.3 1331.2 L1800.0 1318.3 L1803.6 1330.7 L1807.1 1318.6 L1810.7 1317.9 L1814.2 1326.8 L1817.8 1325.6 L1821.3 1316.6 L1824.9 1320.3 L1828.4 1318.5 L1832.0 1321.1 L1835.7 1314.4 L1839.4 1324.1 L1843.1 1327.3 L1846.8 1324.0 L1850.5 1327.7 L1854.2 1328.7 L1857.8 1321.7 L1861.5 1329.0 L1865.2 1329.6 L1868.9 1326.9 L1872.6 1321.0 L1876.3 1328.9 L1880.0 1333.8 L1883.8 1325.8 L1887.5 1331.1 L1891.2 1335.1 L1895.0 1331.4 L1898.8 1324.0 L1902.5 1332.8 L1906.2 1328.1 L1910.0 1337.0 L1913.8 1334.8 L1917.5 1330.3 L1921.2 1339.0 L1925.0 1334.0" fill="none" stroke="#37AD6B" stroke-width="11" stroke-linejoin="round" stroke-linecap="butt"/><line x1="164.7" y1="967.0" x2="171.2" y2="1264.0" stroke="#000" stroke-width="10"/><polygon points="148.7,1206.4 187.7,1204.4 171.7,1274.0" fill="#000"/><line x1="228.8" y1="1006.0" x2="270.1" y2="1290.0" stroke="#000" stroke-width="10"/><polygon points="244.9,1229.8 283.7,1226.2 271.0,1300.0" fill="#000"/><line x1="931.0" y1="1071.0" x2="948.6" y2="1274.1" stroke="#000" stroke-width="10"/><polygon points="923.0,1215.5 961.8,1211.5 949.6,1284.0" fill="#000"/><line x1="1311.8" y1="197.4" x2="1253.7" y2="120.1" stroke="#000" stroke-width="10"/><polygon points="1307.2,154.6 1277.0,179.4 1247.4,112.4" fill="#000"/><line x1="1557.0" y1="1152.7" x2="1664.5" y2="1263.1" stroke="#000" stroke-width="10"/><polygon points="1609.9,1234.1 1636.7,1207.9 1671.5,1270.3" fill="#000"/><line x1="1682.7" y1="1113.0" x2="1688.8" y2="1237.0" stroke="#000" stroke-width="10"/><polygon points="1663.9,1181.5 1705.7,1178.5 1689.5,1247.0" fill="#000"/><line x1="1835.7" y1="1113.0" x2="1841.8" y2="1245.2" stroke="#000" stroke-width="10"/><polygon points="1816.7,1188.6 1857.5,1185.4 1842.6,1255.2" fill="#000"/><g font-family="'Liberation Sans', Arial, Helvetica, sans-serif" fill="#000" stroke="#000" stroke-width="1.6"><text transform="translate(190.7 958.8) rotate(-90) scale(0.974 1.137)" font-size="70">145</text><text transform="translate(254.8 1007.9) rotate(-90) scale(1.001 1.139)" font-size="70">228</text><text transform="translate(393.2 681.6) rotate(-90) scale(0.912 1.147)" font-size="70">301</text><text transform="translate(574.2 1073.5) rotate(-90) scale(1.013 1.147)" font-size="70">432</text><text transform="translate(796.7 1118.4) rotate(-90) scale(0.973 1.137)" font-size="70">618</text><text transform="translate(881.2 1118.4) rotate(-90) scale(0.976 1.107)" font-size="70">669</text><text transform="translate(953.2 1071.1) rotate(-90) scale(0.929 1.147)" font-size="70">751</text><text transform="translate(1070.2 1083.5) rotate(-90) scale(0.986 1.131)" font-size="70">822</text><text transform="translate(1372.0 279.1) rotate(-90) scale(0.976 1.149)" font-size="70">970</text><text transform="translate(1567.2 1147.2) rotate(-90) scale(0.982 1.127)" font-size="70">1298</text><text transform="translate(1716.0 1089.5) rotate(-90) scale(0.976 1.155)" font-size="70">1317</text><text transform="translate(1867.7 1106.0) rotate(-90) scale(0.985 1.127)" font-size="70">1442</text></g><text transform="translate(675.5 548.5) scale(1.13 1)" font-family="'Liberation Sans', Arial, Helvetica, sans-serif" font-weight="bold" font-size="69">Si</text><rect x="139.9" y="29.4" width="974.3" height="357.6" fill="#fff" stroke="#000" stroke-width="3.5"/><line x1="145.4" y1="80.3" x2="326" y2="80.3" stroke="#515151" stroke-width="3"/><line x1="149" y1="80.3" x2="323" y2="80.3" stroke="#515151" stroke-width="9"/><text transform="translate(340.4 100.4) scale(1.107 1)" font-family="'Liberation Sans', Arial, Helvetica, sans-serif" font-weight="bold" font-size="69">Unannealed - 2 nm</text><line x1="145.4" y1="165.8" x2="326" y2="165.8" stroke="#F14040" stroke-width="3"/><line x1="149" y1="165.8" x2="323" y2="165.8" stroke="#F14040" stroke-width="9"/><text transform="translate(340.4 189.4) scale(1.107 1)" font-family="'Liberation Sans', Arial, Helvetica, sans-serif" font-weight="bold" font-size="69">Unannealed - 4 nm</text><line x1="145.4" y1="252.4" x2="326" y2="252.4" stroke="#1A6FDF" stroke-width="3"/><line x1="149" y1="252.4" x2="323" y2="252.4" stroke="#1A6FDF" stroke-width="9"/><text transform="translate(340.4 276.0) scale(1.107 1)" font-family="'Liberation Sans', Arial, Helvetica, sans-serif" font-weight="bold" font-size="69">Post annealed - 2 nm</text><line x1="145.4" y1="340.8" x2="326" y2="340.8" stroke="#37AD6B" stroke-width="3"/><line x1="149" y1="340.8" x2="323" y2="340.8" stroke="#37AD6B" stroke-width="9"/><text transform="translate(340.4 362.0) scale(1.107 1)" font-family="'Liberation Sans', Arial, Helvetica, sans-serif" font-weight="bold" font-size="69">Post annealed - 4 nm</text><line x1="127.6" y1="34" x2="127.6" y2="1360.8" stroke="#000" stroke-width="6.8"/><line x1="124.2" y1="1357.5" x2="1925" y2="1357.5" stroke="#000" stroke-width="6.6"/><line x1="233.5" y1="1357" x2="233.5" y2="1382.8" stroke="#000" stroke-width="6.5"/><line x1="363.5" y1="1357" x2="363.5" y2="1370.8" stroke="#000" stroke-width="6.5"/><line x1="493.4" y1="1357" x2="493.4" y2="1382.8" stroke="#000" stroke-width="6.5"/><line x1="623.4" y1="1357" x2="623.4" y2="1370.8" stroke="#000" stroke-width="6.5"/><line x1="753.3" y1="1357" x2="753.3" y2="1382.8" stroke="#000" stroke-width="6.5"/><line x1="883.2" y1="1357" x2="883.2" y2="1370.8" stroke="#000" stroke-width="6.5"/><line x1="1013.2" y1="1357" x2="1013.2" y2="1382.8" stroke="#000" stroke-width="6.5"/><line x1="1143.2" y1="1357" x2="1143.2" y2="1370.8" stroke="#000" stroke-width="6.5"/><line x1="1273.1" y1="1357" x2="1273.1" y2="1382.8" stroke="#000" stroke-width="6.5"/><line x1="1403.1" y1="1357" x2="1403.1" y2="1370.8" stroke="#000" stroke-width="6.5"/><line x1="1533.0" y1="1357" x2="1533.0" y2="1382.8" stroke="#000" stroke-width="6.5"/><line x1="1663.0" y1="1357" x2="1663.0" y2="1370.8" stroke="#000" stroke-width="6.5"/><line x1="1792.9" y1="1357" x2="1792.9" y2="1382.8" stroke="#000" stroke-width="6.5"/><line x1="1922.9" y1="1357" x2="1922.9" y2="1370.8" stroke="#000" stroke-width="6.5"/><text transform="translate(231.5 1458.2) scale(1.105 1)" text-anchor="middle" font-family="'Liberation Sans', Arial, Helvetica, sans-serif" font-size="75">200</text><text transform="translate(491.4 1458.2) scale(1.105 1)" text-anchor="middle" font-family="'Liberation Sans', Arial, Helvetica, sans-serif" font-size="75">400</text><text transform="translate(751.3 1458.2) scale(1.105 1)" text-anchor="middle" font-family="'Liberation Sans', Arial, Helvetica, sans-serif" font-size="75">600</text><text transform="translate(1011.2 1458.2) scale(1.105 1)" text-anchor="middle" font-family="'Liberation Sans', Arial, Helvetica, sans-serif" font-size="75">800</text><text transform="translate(1273.1 1458.2) scale(1.105 1)" text-anchor="middle" font-family="'Liberation Sans', Arial, Helvetica, sans-serif" font-size="75">1000</text><text transform="translate(1533.0 1458.2) scale(1.105 1)" text-anchor="middle" font-family="'Liberation Sans', Arial, Helvetica, sans-serif" font-size="75">1200</text><text transform="translate(1792.9 1458.2) scale(1.105 1)" text-anchor="middle" font-family="'Liberation Sans', Arial, Helvetica, sans-serif" font-size="75">1400</text><text transform="translate(683 1577) scale(1.115 1)" font-family="'Liberation Sans', Arial, Helvetica, sans-serif" font-weight="bold" font-size="74.5">Raman shift(cm</text><text transform="translate(1306 1548) scale(1.115 1)" font-family="'Liberation Sans', Arial, Helvetica, sans-serif" font-weight="bold" font-size="74.5">-1</text><text transform="translate(1382 1575.7) scale(0.95 1)" font-family="'Liberation Sans', Arial, Helvetica, sans-serif" font-size="68">)</text><text transform="translate(82 920) rotate(-90) scale(1 1.12)" font-family="'Liberation Sans', Arial, Helvetica, sans-serif" font-weight="bold" font-size="69">Intensity(a.u.)</text></svg></body></html>
